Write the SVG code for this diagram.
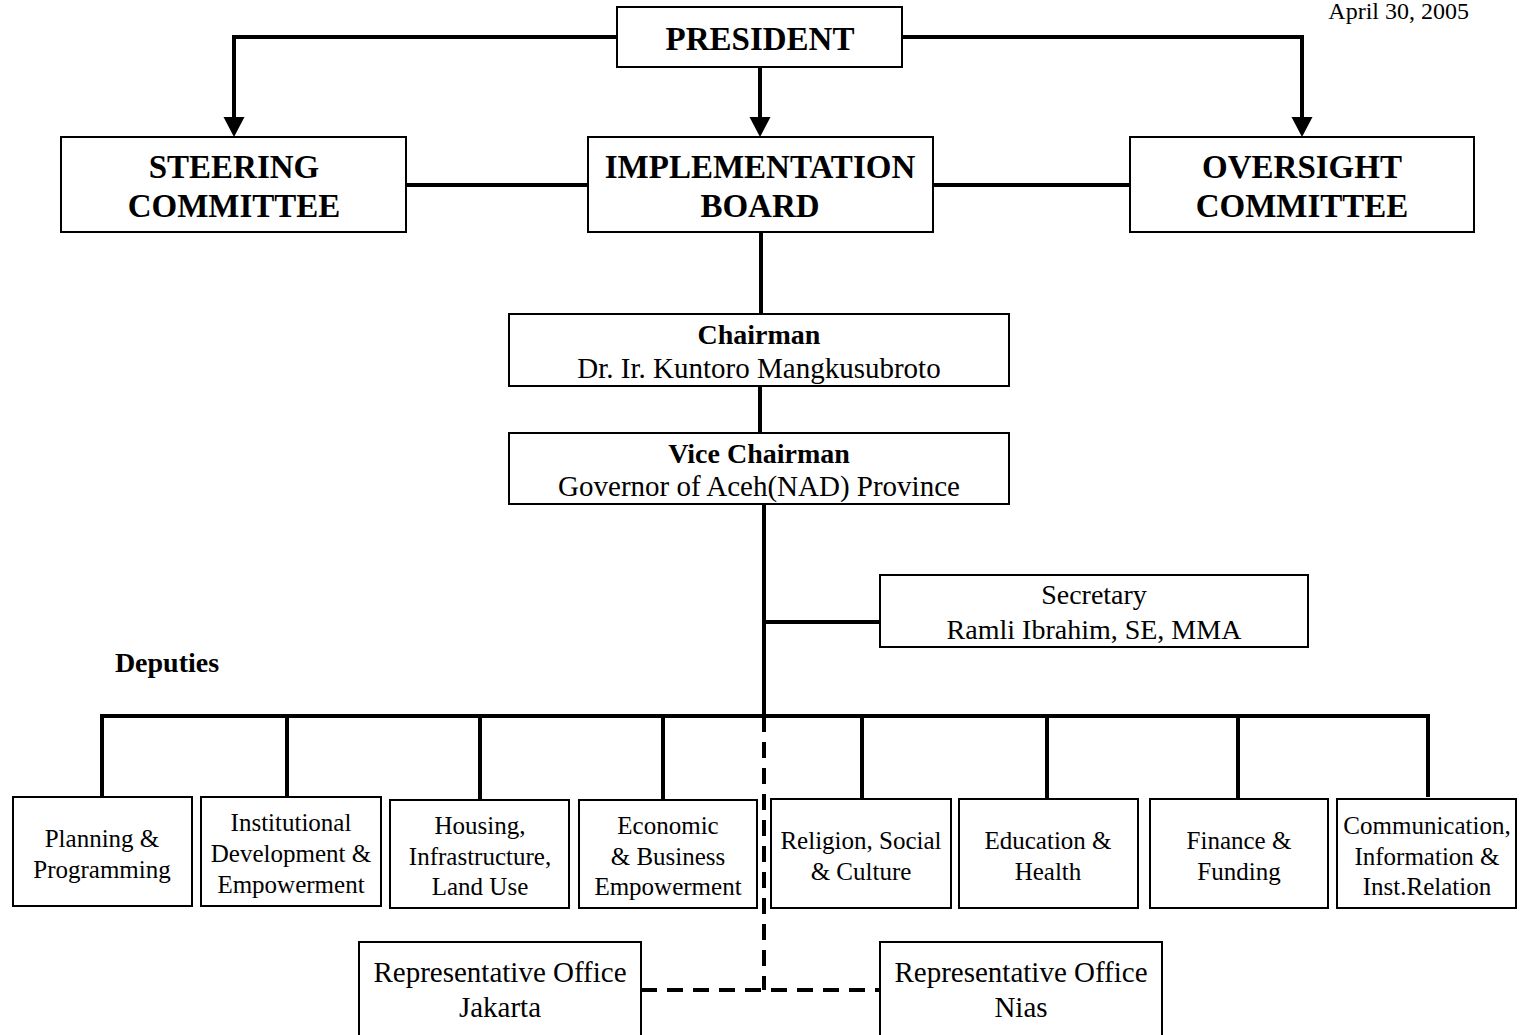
<svg xmlns="http://www.w3.org/2000/svg" width="1520" height="1035" viewBox="0 0 1520 1035">
<style>
  .box { fill: #fff; stroke: #000; stroke-width: 2; }
  .con { fill: none; stroke: #000; stroke-width: 4; }
  .dash { fill: none; stroke: #000; stroke-width: 4; stroke-dasharray: 16 10; }
  text { font-family: "Liberation Serif", "Times New Roman", serif; fill: #000; text-anchor: middle; }
  .big { font-size: 33px; font-weight: bold; }
  .mid { font-size: 29px; }
  .midb { font-size: 28px; font-weight: bold; }
  .sec { font-size: 28px; }
  .dep { font-size: 25px; }
  .date { font-size: 24px; text-anchor: end; }
</style>
<defs>
  <marker id="arrow" viewBox="0 -11 20 22" refX="0" refY="0" markerWidth="20" markerHeight="22" markerUnits="userSpaceOnUse" orient="auto">
    <path d="M0,-10.5 L20,0 L0,10.5 z" fill="#000"/>
  </marker>
</defs>

<text class="date" x="1469" y="19">April 30, 2005</text>

<g id="connectors">
  <path class="con" d="M617,37 H234 V117" marker-end="url(#arrow)"/>
  <path class="con" d="M760,67 V117" marker-end="url(#arrow)"/>
  <path class="con" d="M902,37 H1302 V117" marker-end="url(#arrow)"/>
  <path class="con" d="M406,185 H588"/>
  <path class="con" d="M933,185 H1130"/>
  <path class="con" d="M761,232 V314"/>
  <path class="con" d="M760,386 V433"/>
  <path class="con" d="M764,504 V716"/>
  <path class="con" d="M764,622 H880"/>
  <path class="con" d="M102,797 V716 H1428 V797"/>
  <path class="con" d="M287,716 V797"/>
  <path class="con" d="M480,716 V800"/>
  <path class="con" d="M663,716 V800"/>
  <path class="con" d="M862,716 V798"/>
  <path class="con" d="M1047,716 V798"/>
  <path class="con" d="M1238,716 V798"/>
  <path class="dash" d="M764,716 V990"/>
  <path class="dash" d="M641,990 H880"/>
</g>

<g id="president">
  <rect class="box" x="617" y="7" width="285" height="60"/>
  <text class="big" x="760" y="50">PRESIDENT</text>
</g>
<g id="steering">
  <rect class="box" x="61" y="137" width="345" height="95"/>
  <text class="big" x="234" y="178">STEERING</text>
  <text class="big" x="234" y="217">COMMITTEE</text>
</g>
<g id="implementation">
  <rect class="box" x="588" y="137" width="345" height="95"/>
  <text class="big" x="760" y="178">IMPLEMENTATION</text>
  <text class="big" x="760" y="217">BOARD</text>
</g>
<g id="oversight">
  <rect class="box" x="1130" y="137" width="344" height="95"/>
  <text class="big" x="1302" y="178">OVERSIGHT</text>
  <text class="big" x="1302" y="217">COMMITTEE</text>
</g>
<g id="chairman">
  <rect class="box" x="509" y="314" width="500" height="72"/>
  <text class="midb" x="759" y="344">Chairman</text>
  <text class="mid" x="759" y="378">Dr. Ir. Kuntoro Mangkusubroto</text>
</g>
<g id="vice-chairman">
  <rect class="box" x="509" y="433" width="500" height="71"/>
  <text class="midb" x="759" y="463">Vice Chairman</text>
  <text class="mid" x="759" y="496">Governor of Aceh(NAD) Province</text>
</g>
<g id="secretary">
  <rect class="box" x="880" y="575" width="428" height="72"/>
  <text class="sec" x="1094" y="604">Secretary</text>
  <text class="sec" x="1094" y="639">Ramli Ibrahim, SE, MMA</text>
</g>
<text class="midb" x="167" y="672">Deputies</text>

<g id="planning">
  <rect class="box" x="13" y="797" width="179" height="109"/>
  <text class="dep" x="102" y="847">Planning &amp;</text>
  <text class="dep" x="102" y="878">Programming</text>
</g>
<g id="institutional">
  <rect class="box" x="201" y="797" width="180" height="109"/>
  <text class="dep" x="291" y="831">Institutional</text>
  <text class="dep" x="291" y="862">Development &amp;</text>
  <text class="dep" x="291" y="893">Empowerment</text>
</g>
<g id="housing">
  <rect class="box" x="390" y="800" width="179" height="108"/>
  <text class="dep" x="480" y="834">Housing,</text>
  <text class="dep" x="480" y="865">Infrastructure,</text>
  <text class="dep" x="480" y="895">Land Use</text>
</g>
<g id="economic">
  <rect class="box" x="579" y="800" width="178" height="108"/>
  <text class="dep" x="668" y="834">Economic</text>
  <text class="dep" x="668" y="865">&amp; Business</text>
  <text class="dep" x="668" y="895">Empowerment</text>
</g>
<g id="religion">
  <rect class="box" x="771" y="799" width="180" height="109"/>
  <text class="dep" x="861" y="849">Religion, Social</text>
  <text class="dep" x="861" y="880">&amp; Culture</text>
</g>
<g id="education">
  <rect class="box" x="959" y="799" width="179" height="109"/>
  <text class="dep" x="1048" y="849">Education &amp;</text>
  <text class="dep" x="1048" y="880">Health</text>
</g>
<g id="finance">
  <rect class="box" x="1150" y="799" width="178" height="109"/>
  <text class="dep" x="1239" y="849">Finance &amp;</text>
  <text class="dep" x="1239" y="880">Funding</text>
</g>
<g id="communication">
  <rect class="box" x="1337" y="799" width="179" height="109"/>
  <text class="dep" x="1427" y="834">Communication,</text>
  <text class="dep" x="1427" y="865">Information &amp;</text>
  <text class="dep" x="1427" y="895">Inst.Relation</text>
</g>
<g id="rep-jakarta">
  <rect class="box" x="359" y="942" width="282" height="100"/>
  <text class="mid" x="500" y="982">Representative Office</text>
  <text class="mid" x="500" y="1017">Jakarta</text>
</g>
<g id="rep-nias">
  <rect class="box" x="880" y="942" width="282" height="100"/>
  <text class="mid" x="1021" y="982">Representative Office</text>
  <text class="mid" x="1021" y="1017">Nias</text>
</g>
</svg>
